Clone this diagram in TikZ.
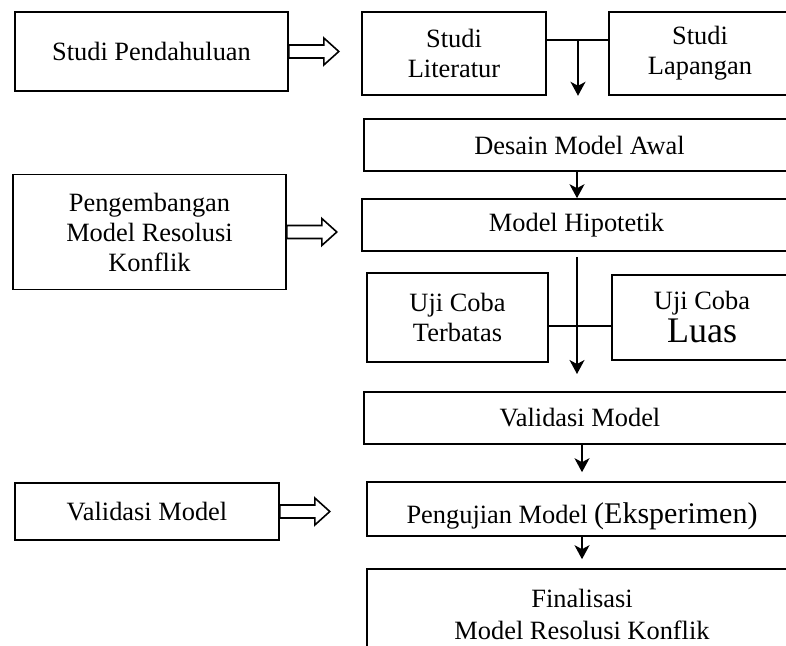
\documentclass[tikz,border=0pt]{standalone}
\usepackage{fontspec}
\setmainfont{Liberation Serif}
\usetikzlibrary{arrows.meta}
\newcommand{\panahkosong}[1]{%
  \draw[garis,fill=white] (#1.east) ++(0,-6.5) -- ++(35,0) -- ++(0,-7) -- ++(15,13.5)
    -- ++(-15,13.5) -- ++(0,-7) -- ++(-35,0) -- cycle;}
\begin{document}
\begin{tikzpicture}[x=0.5pt,y=-0.5pt,
    garis/.style={line width=0.8pt},
    kotak/.style={draw,garis,align=center,inner sep=0pt,font=\fontsize{13.2}{15}\selectfont},
    panah/.style={garis,-{Stealth[length=7pt,width=7.5pt,inset=2pt]}}]
  \useasboundingbox (0,0) rectangle (786,646);

  \node[kotak,minimum width=136.5pt,minimum height=39.5pt] (sp) at (151.5,51.5) {Studi Pendahuluan};
  \node[kotak,minimum width=136.5pt,minimum height=57.5pt] (pk) at (149.5,232) {Pengembangan\\Model Resolusi\\Konflik};
  \node[kotak,minimum width=132pt,minimum height=28.5pt] (vmk) at (147,511.5) {Validasi Model};

  \node[kotak,minimum width=92pt,minimum height=41.5pt] (sl) at (454,53.5) {Studi\\Literatur};
  \node[kotak,minimum width=91pt,minimum height=41.5pt] (slap) at (700,53.5) {Studi\\Lapangan};
  \node[kotak,minimum width=215.5pt,minimum height=26pt] (desain) at (579.5,145) {Desain Model Awal};
  \node[kotak,minimum width=214.5pt,minimum height=26pt] (hipo) at (576.5,225) {Model Hipotetik};
  \node[kotak,minimum width=90.5pt,minimum height=44.5pt] (ujt) at (457.5,317.5) {Uji Coba\\Terbatas};
  \node[kotak,minimum width=90pt,minimum height=42.5pt] (ujl) at (702,317.5) {Uji Coba\\[1.5pt]{\fontsize{18}{15}\selectfont Luas}};
  \node[kotak,minimum width=216pt,minimum height=26pt] (vm) at (580,418) {Validasi Model};
  \node[kotak,minimum width=215pt,minimum height=27pt,text height=17pt,text depth=3pt] (uji) at (582,509)
    {Pengujian Model {\fontsize{15}{15}\selectfont(Eksperimen)}};
  \node[kotak,minimum width=215pt,minimum height=45.5pt,font=\fontsize{13.2}{16}\selectfont] (fin) at (582,614.5)
    {Finalisasi\\Model Resolusi Konflik};

  \panahkosong{sp}
  \panahkosong{pk}
  \panahkosong{vmk}

  \coordinate (j1) at (578,40);
  \draw[garis] (sl.east |- j1) -- (slap.west |- j1);
  \draw[panah] (j1) -- (j1 |- sl.south);
  \draw[panah] ([xshift=-1.25pt]desain.south) -- ([xshift=0.25pt]hipo.north);
  \coordinate (j2) at (577,326);
  \coordinate (j2b) at (577,374);
  \draw[garis] (ujt.east |- j2) -- (ujl.west |- j2);
  \draw[panah] ([yshift=-2.5pt]j2 |- hipo.south) -- (j2b);
  \draw[panah,shorten >=4.5pt] ([xshift=1pt]vm.south) -- (uji.north);
  \draw[panah,shorten >=4.5pt] (uji.south) -- (fin.north);
\end{tikzpicture}
\end{document}
